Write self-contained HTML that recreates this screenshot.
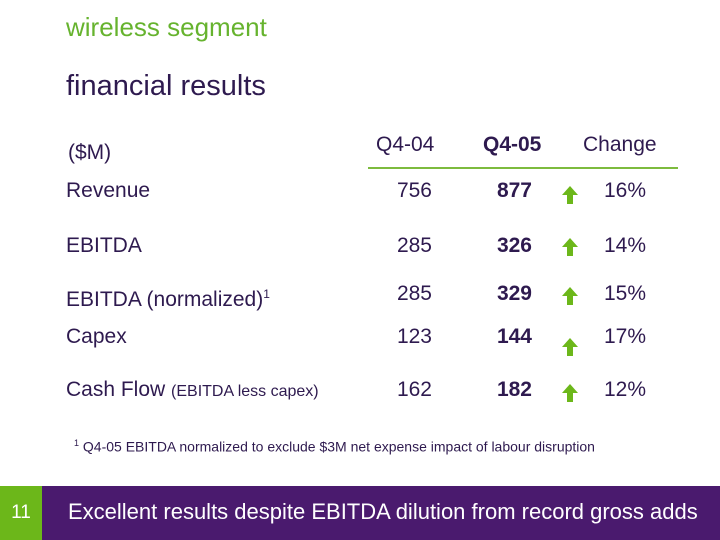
<!DOCTYPE html>
<html><head><meta charset="utf-8"><style>
body{margin:0;width:720px;height:540px;background:#fff;position:relative;overflow:hidden;font-family:"Liberation Sans",sans-serif;color:#2e1a4f}
.a{position:absolute;white-space:nowrap;line-height:24px;font-size:21px}
.r{text-align:right}
.b{font-weight:bold}
svg.ar{position:absolute}
</style></head><body>
<div class="a" style="left:66px;top:15px;color:#66b32e;font-size:26px">wireless segment</div>
<div class="a" style="left:66px;top:71px;font-size:29px;line-height:30px">financial results</div>
<div class="a" style="left:68px;top:141px">($M)</div>
<div class="a" style="left:376px;top:133px">Q4-04</div>
<div class="a b" style="left:483px;top:133px">Q4-05</div>
<div class="a" style="left:583px;top:133px">Change</div>
<div style="position:absolute;left:368px;top:167px;width:310px;height:2px;background:#7dbb3e"></div>
<div id="rows"></div>
<div class="a" style="left:74px;top:434px;font-size:14px;line-height:18px"><sup style="font-size:9px">1</sup> Q4-05 EBITDA normalized to exclude $3M net expense impact of labour disruption</div>
<div style="position:absolute;left:0;top:486px;width:42px;height:54px;background:#6cb71a"></div>
<div class="a" style="left:0;width:42px;text-align:center;top:501px;color:#fff;font-size:19px">11</div>
<div style="position:absolute;left:42px;top:486px;width:678px;height:54px;background:#4a1a6e"></div>
<div class="a" style="left:68px;top:500px;color:#fff;font-size:22px">Excellent results despite EBITDA dilution from record gross adds</div>
<script>
const labels=["Revenue","EBITDA","EBITDA (normalized)<sup style='font-size:12px'>1</sup>","Capex","Cash Flow <span style='font-size:16px'>(EBITDA less capex)</span>"];
const q404=[756,285,285,123,162];
const q405=[877,326,329,144,182];
const change=["16%","14%","15%","17%","12%"];
const yc=[191,246,294,337,390];
const arrowDy=[2,-1,0,8,1];
const root=document.getElementById('rows');
function mk(cls,html,l,t,name,w){const d=document.createElement('div');d.className='a '+cls;d.innerHTML=html;d.style.left=l+'px';d.style.top=t+'px';if(w){d.style.width=w+'px';}


root.appendChild(d);return d;}
labels.forEach((lb,i)=>{const t=yc[i]-12;
mk('',lb,66,t,'row-label-'+i);
mk('r',q404[i],370,t,'q4-04-value-'+i,62);
mk('r b',q405[i],470,t,'q4-05-value-'+i,62);
mk('',change[i],604,t,'change-value-'+i);
const s=document.createElementNS('http://www.w3.org/2000/svg','svg');
s.setAttribute('class','ar');s.setAttribute('width','18');s.setAttribute('height','20');
s.style.left='561px';s.style.top=(yc[i]-8+arrowDy[i])+'px';
s.innerHTML="<path d='M9 1 L17 10 L12 10 L12 19 L6 19 L6 10 L1 10 Z' fill='#6cb71a'/>";


root.appendChild(s);});
</script>
</body></html>
